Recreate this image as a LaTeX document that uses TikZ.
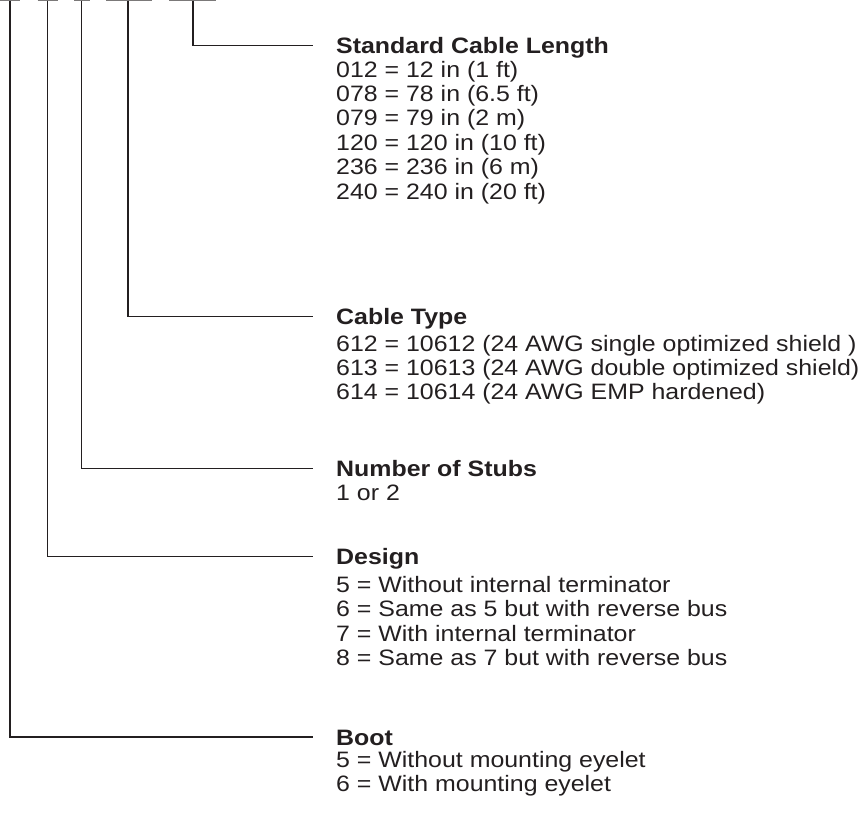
\documentclass[tikz,border=0pt]{standalone}
\usepackage{fontspec}
\setmainfont{Liberation Sans}[FakeStretch=1.117]
\definecolor{ink}{HTML}{231F20}
\begin{document}
\begin{tikzpicture}[x=1pt,y=-1pt,
  lead/.style={draw=ink,line width=1.3pt},
  tickline/.style={draw=ink!60,line width=1.4pt},
  head/.style={anchor=west,inner sep=0pt,text height=16pt,text depth=0pt,
    font=\fontsize{22.3}{24.4}\selectfont\bfseries,text=ink},
  item/.style={anchor=base west,inner sep=0pt,
    font=\fontsize{22.3}{24.4}\selectfont,text=ink}]
\useasboundingbox (0,0) rectangle (866,812);

% code position marks along the top edge
\coordinate (m1a) at (0,0.7);     \coordinate (m1b) at (20,0.7);
\coordinate (m2a) at (37.7,0.7);  \coordinate (m2b) at (57.7,0.7);
\coordinate (m3a) at (74,0.7);    \coordinate (m3b) at (89.5,0.7);
\coordinate (m4a) at (106,0.7);   \coordinate (m4b) at (152,0.7);
\coordinate (m5a) at (169,0.7);   \coordinate (m5b) at (216,0.7);
\draw[tickline] (m1a) -- (m1b);
\draw[tickline] (m2a) -- (m2b);
\draw[tickline] (m3a) -- (m3b);
\draw[tickline] (m4a) -- (m4b);
\draw[tickline] (m5a) -- (m5b);

\coordinate (t1) at (10,0.7);
\coordinate (t2) at (47.7,0.7);
\coordinate (t3) at (81.7,0.7);
\coordinate (t4) at (128,0.7);
\coordinate (t5) at (193,0.7);

% headings
\node[head] (hSCL)   at (336,45.5)  {Standard Cable Length};
\node[head] (hCT)    at (336,316.7) {Cable Type};
\node[head] (hStub)  at (336,468.3) {Number of Stubs};
\node[head] (hDes)   at (336,556.7) {Design};
\node[head] (hBoot)  at (336,737)   {Boot};

% leader lines
\draw[lead] (t5) |- ([xshift=-23pt]hSCL.west);
\draw[lead] (t4) |- ([xshift=-23pt]hCT.west);
\draw[lead] (t3) |- ([xshift=-23pt]hStub.west);
\draw[lead] (t2) |- ([xshift=-23pt]hDes.west);
\draw[lead] (t1) |- ([xshift=-23pt]hBoot.west);

% Standard Cable Length
\node[item] (s1) at (336,77.1)  {012 = 12 in (1 ft)};
\node[item] (s2) at (336,101.5) {078 = 78 in (6.5 ft)};
\node[item] (s3) at (336,125.9) {079 = 79 in (2 m)};
\node[item] (s4) at (336,150.3) {120 = 120 in (10 ft)};
\node[item] (s5) at (336,174.7) {236 = 236 in (6 m)};
\node[item] (s6) at (336,199.1) {240 = 240 in (20 ft)};

% Cable Type
\node[item] (c1) at (336,351)   {612 = 10612 (24 AWG single optimized shield )};
\node[item] (c2) at (336,375.4) {613 = 10613 (24 AWG double optimized shield)};
\node[item] (c3) at (336,399.8) {614 = 10614 (24 AWG EMP hardened)};

% Number of Stubs
\node[item] (n1) at (336,500.5) {1 or 2};

% Design
\node[item] (d1) at (336,592.5) {5 = Without internal terminator};
\node[item] (d2) at (336,616.9) {6 = Same as 5 but with reverse bus};
\node[item] (d3) at (336,641.3) {7 = With internal terminator};
\node[item] (d4) at (336,665.7) {8 = Same as 7 but with reverse bus};

% Boot
\node[item] (b1) at (336,767)   {5 = Without mounting eyelet};
\node[item] (b2) at (336,791.4) {6 = With mounting eyelet};
\end{tikzpicture}
\end{document}
